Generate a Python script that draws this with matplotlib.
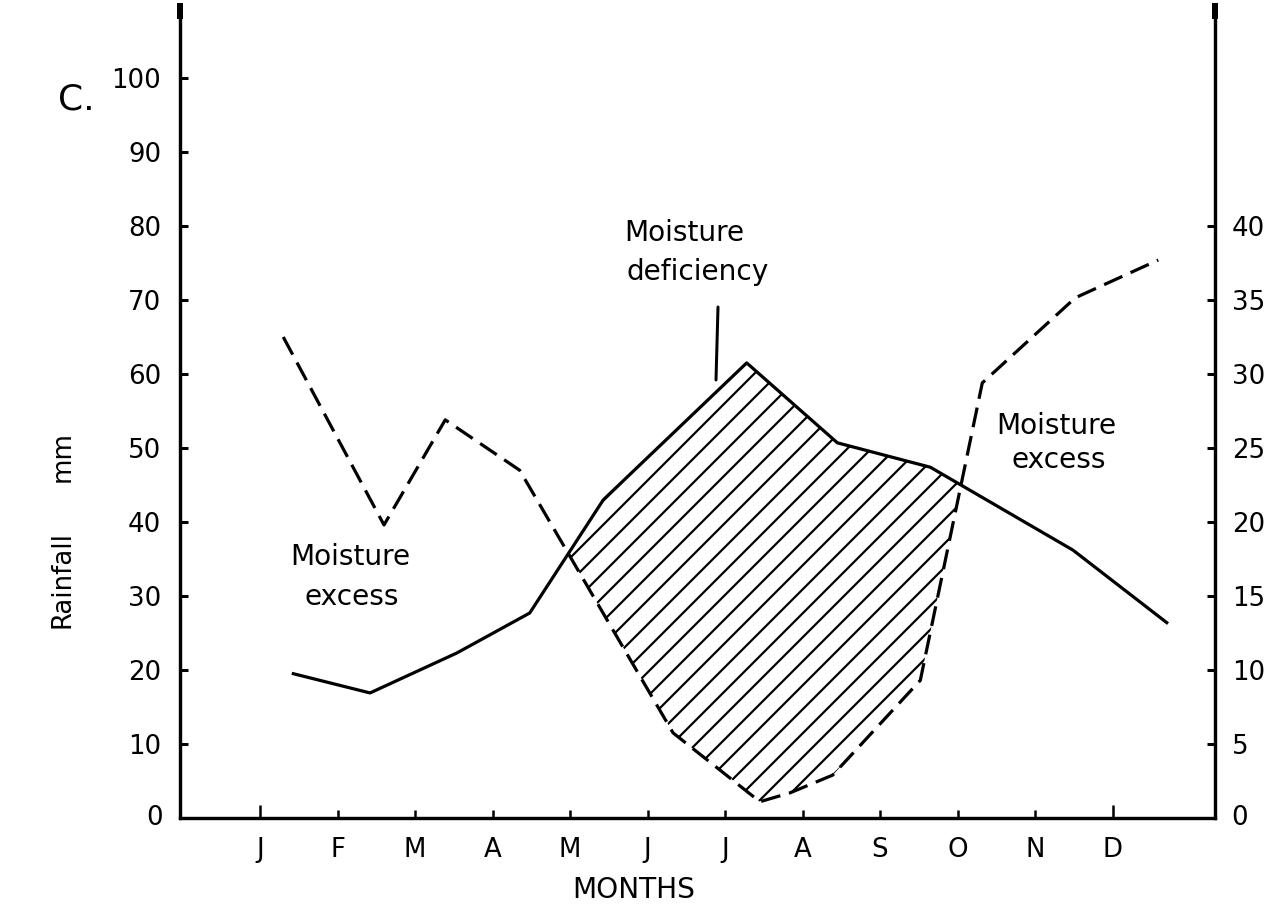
import numpy as np
import matplotlib
matplotlib.use("Agg")
import matplotlib.pyplot as plt

# ---------------- data ----------------
months = ["J", "F", "M", "A", "M", "J", "J", "A", "S", "O", "N", "D"]
# rainfall (dashed line), mm ; x in month units (0 = J)
rain_x = [0.30, 1.60, 2.39, 3.35, 5.33, 6.45, 6.84, 7.39, 8.52, 9.32, 10.52, 11.59]
rain_mm = [65.0, 39.6, 53.8, 47.0, 11.5, 2.2, 3.4, 5.8, 18.6, 58.8, 70.3, 75.4]
# temperature (solid line), right axis units
temp_x = [0.43, 1.42, 2.54, 3.48, 4.43, 6.28, 7.45, 8.65, 10.49, 11.70]
temp_c = [9.75, 8.45, 11.15, 13.85, 21.5, 30.75, 25.35, 23.7, 18.1, 13.2]
left_ticks = [10, 20, 30, 40, 50, 60, 70, 80, 90, 100]
right_ticks = [5, 10, 15, 20, 25, 30, 35, 40]

# ---------------- figure (dpi 72: 1 pt = 1 px) ----------------
W, H = 1273, 916
DPI = 72
plt.rcParams["font.family"] = ["DejaVu Sans"]
plt.rcParams["hatch.linewidth"] = 2.2
plt.rcParams["lines.scale_dashes"] = False
fig = plt.figure(figsize=(W / DPI, H / DPI), dpi=DPI)

x0, x1, y0, y1 = 180, 1215, 818, 5
ax = fig.add_axes([x0 / W, (H - y0) / H, (x1 - x0) / W, (y0 - y1) / H])
px_per_month = 77.5
jan_px = 260
ax.set_xlim((x0 - jan_px) / px_per_month, (x1 - jan_px) / px_per_month)
ymax = (y0 - y1) / 7.4
ax.set_ylim(0, ymax)
ax2 = ax.twinx()
ax2.set_ylim(0, ymax / 2)

for a in (ax, ax2):
    a.spines["top"].set_visible(False)
    for s in ("left", "right", "bottom"):
        a.spines[s].set_linewidth(3.2)
    a.patch.set_visible(False)

FS_TICK = 26
ax.set_xticks(range(12))
ax.set_xticklabels(months)
ax.set_yticks(left_ticks)
ax.set_yticklabels([str(v) for v in left_ticks])
ax2.set_yticks(right_ticks)
ax2.set_yticklabels([str(v) for v in right_ticks])

ax.tick_params(axis="x", direction="in", length=8, width=2.5, pad=19, labelsize=FS_TICK)
ax.tick_params(axis="y", direction="in", length=8, width=3, pad=19, labelsize=FS_TICK)
ax2.tick_params(axis="y", direction="in", length=8, width=3, pad=17, labelsize=FS_TICK)
# first and last month ticks are longer
xt = ax.xaxis.get_major_ticks()
for k in (0, 11):
    xt[k].tick1line.set_markersize(13)

# zero labels (corner)
ax.text(-0.017, 0, "0", transform=ax.get_yaxis_transform(), ha="right", va="center",
        fontsize=FS_TICK)
ax2.text(1.016, 0, "0", transform=ax2.get_yaxis_transform(), ha="left", va="center",
         fontsize=FS_TICK)

# thickened tops of the vertical axes
for xa in (0, 1):
    ax.plot([xa], [0.993], marker="|", markersize=16, markeredgewidth=6, color="black",
            transform=ax.transAxes, clip_on=False)

# ---------------- lines ----------------
ax.plot(rain_x, rain_mm, color="black", lw=3.2, linestyle=(0, (20, 9)),
        dash_capstyle="butt")
ax2.plot(temp_x, temp_c, color="black", lw=3.2)

# hatched deficiency area (rainfall below 2 x temperature)
grid = np.union1d(rain_x, temp_x)
grid = grid[(grid >= max(rain_x[0], temp_x[0])) & (grid <= min(rain_x[-1], temp_x[-1]))]
r = np.interp(grid, rain_x, rain_mm)
t2 = 2 * np.interp(grid, temp_x, temp_c)
ax.fill_between(grid, r, t2, where=r < t2, interpolate=True, facecolor="none",
                edgecolor="black", hatch="/", linewidth=0)


def P(px, py):
    return ((px - jan_px) / px_per_month, (y0 - py) / 7.4)


# ---------------- texts ----------------
FS = 28
ax.text(*P(350, 557), "Moisture", ha="center", va="center", fontsize=FS)
ax.text(*P(352, 597), "excess", ha="center", va="center", fontsize=FS)
ax.text(*P(1056, 426), "Moisture", ha="center", va="center", fontsize=FS)
ax.text(*P(1059, 460), "excess", ha="center", va="center", fontsize=FS)
ax.text(*P(624, 233), "Moisture", ha="left", va="center", fontsize=FS)
ax.text(*P(626, 272), "deficiency", ha="left", va="center", fontsize=FS)
ax.annotate("", xy=P(716, 380), xytext=P(718, 307),
            arrowprops=dict(arrowstyle="-", lw=3, color="black",
                            shrinkA=0, shrinkB=0))

fig.text(634 / W, 1 - 890 / H, "MONTHS", ha="center", va="center", fontsize=FS)
fig.text(63 / W, 1 - 580 / H, "Rainfall", ha="center", va="center", fontsize=FS_TICK,
         rotation=90)
fig.text(63 / W, 1 - 456 / H, "mm", ha="center", va="center", fontsize=FS_TICK,
         rotation=90)
fig.text(58 / W, 1 - 100 / H, "C.", ha="left", va="center", fontsize=36)

fig.savefig("out.png", dpi=DPI)
